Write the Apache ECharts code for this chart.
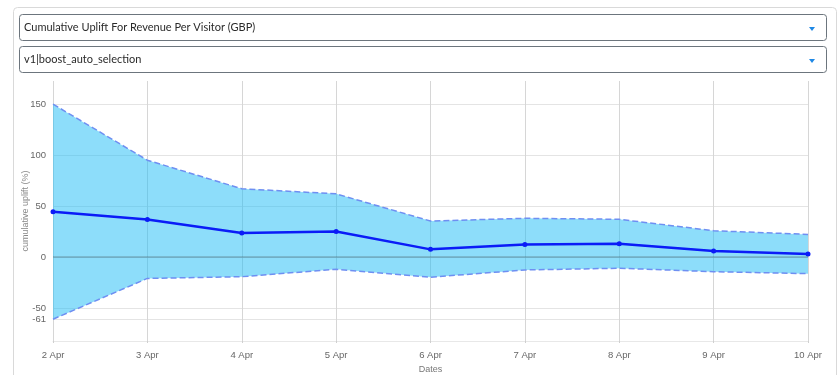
<!DOCTYPE html>
<html>
<head>
<meta charset="utf-8">
<script src="https://cdn.jsdelivr.net/npm/echarts@6/dist/echarts.min.js"></script>
<style>
html,body{margin:0;padding:0;background:#fff;}
#chart{width:839px;height:375px;}
</style>
</head>
<body>
<div id="chart"></div>
<script>
const dates = ['2 Apr','3 Apr','4 Apr','5 Apr','6 Apr','7 Apr','8 Apr','9 Apr','10 Apr'];
const meanUplift = [44.4, 36.8, 23.5, 25.0, 7.5, 12.2, 13.0, 5.9, 2.9];
const upperBound = [150, 95, 67, 62, 35.3, 38, 37, 25.8, 22.2];
const lowerBound = [-61, -21, -19.3, -12, -19.8, -12.7, -11, -14.4, -16.3];
const yTickValues = [-61, -50, 0, 50, 100, 150];
const metricLabel = 'Cumulative Uplift For Revenue Per Visitor (GBP)';
const variantLabel = 'v1|boost_auto_selection';
const yAxisTitle = 'cumulative uplift (%)';
const xAxisTitle = 'Dates';

const chart = echarts.init(document.getElementById('chart'), null, {renderer: 'canvas'});
const bandColor = 'rgba(27,187,245,0.5)';
const dashColor = '#6f8ff2';
const option = {
  animation: false,
  textStyle: {fontFamily: 'Liberation Sans, Arial, sans-serif'},
  graphic: [
    {type: 'rect', left: 11, top: 5, z: -10, shape: {width: 823, height: 400, r: 4},
     style: {fill: 'none', stroke: '#d9d9d9', lineWidth: 1}},
    {type: 'rect', left: 19, top: 14, shape: {width: 807, height: 26, r: 3},
     style: {fill: '#fff', stroke: '#6c757d', lineWidth: 1}},
    {type: 'text', left: 24, top: 22, style: {text: metricLabel, font: '11px Lato, "Open Sans", sans-serif', fill: '#2a2a2a'}},
    {type: 'polygon', shape: {points: [[809, 27], [815, 27], [812, 31]]}, style: {fill: '#1e88e5'}},
    {type: 'rect', left: 19, top: 46, shape: {width: 807, height: 26, r: 3},
     style: {fill: '#fff', stroke: '#6c757d', lineWidth: 1}},
    {type: 'text', left: 24, top: 54, style: {text: variantLabel, font: '11px Lato, "Open Sans", sans-serif', fill: '#2a2a2a'}},
    {type: 'polygon', shape: {points: [[809, 59], [815, 59], [812, 63]]}, style: {fill: '#1e88e5'}}
  ],
  grid: {left: 53, right: 31, top: 81, bottom: 34, containLabel: false, outerBoundsMode: 'none'},
  xAxis: {
    type: 'category', data: dates, boundaryGap: false,
    name: xAxisTitle, nameLocation: 'middle', nameGap: 24, nameMoveOverlap: false,
    nameTextStyle: {color: '#777', fontSize: 9},
    axisLine: {show: true, onZero: false, lineStyle: {color: '#e8e8e8'}},
    axisTick: {show: true, length: 2, lineStyle: {color: '#cfcfcf'}},
    axisLabel: {color: '#666', fontSize: 9.5, margin: 9},
    splitLine: {show: true, lineStyle: {color: '#d6d6d6'}}
  },
  yAxis: {
    type: 'value', min: -82.4, max: 172.7,
    name: yAxisTitle, nameLocation: 'middle', nameGap: 23, nameMoveOverlap: false,
    nameTextStyle: {color: '#888', fontSize: 9},
    axisLine: {show: false},
    axisTick: {show: false, customValues: yTickValues},
    axisLabel: {color: '#666', fontSize: 9.5, margin: 7, customValues: yTickValues},
    splitLine: {show: true, lineStyle: {color: '#e4e4e4'}}
  },
  series: [
    {
      name: 'upper', type: 'line', data: upperBound, symbol: 'none',
      lineStyle: {color: dashColor, width: 1.5, type: [6, 3]},
      areaStyle: {color: bandColor, opacity: 1, origin: 0},
      z: 2
    },
    {
      name: 'lower', type: 'line', data: lowerBound, symbol: 'none',
      lineStyle: {color: dashColor, width: 1.5, type: [6, 3]},
      areaStyle: {color: bandColor, opacity: 1, origin: 0},
      markLine: {silent: true, symbol: 'none', label: {show: false},
        lineStyle: {color: 'rgba(60,60,60,0.3)', width: 1.5, type: 'solid'},
        data: [{yAxis: 0}]},
      z: 2
    },
    {
      name: 'uplift', type: 'line', data: meanUplift, symbol: 'circle', symbolSize: 5,
      itemStyle: {color: '#0b1cf7'},
      lineStyle: {color: '#0b1cf7', width: 2.5},
      z: 3
    }
  ]
};
chart.setOption(option);
</script>
</body>
</html>
